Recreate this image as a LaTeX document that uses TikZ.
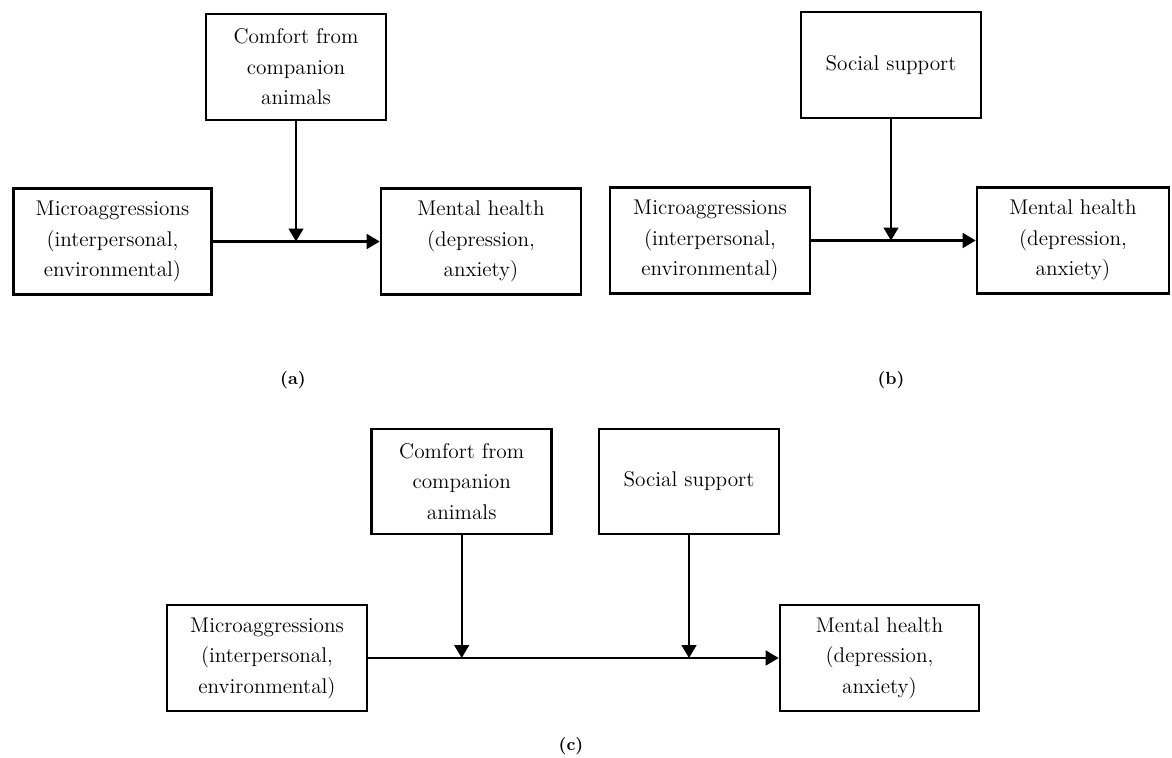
\documentclass[tikz,border=0pt]{standalone}
\usetikzlibrary{arrows.meta, positioning}

\begin{document}
\begin{tikzpicture}[
  x=0.02cm, y=-0.02cm,
  box/.style={draw, line width=1.5pt, minimum height=2.12cm, align=center,
              inner sep=2pt, font=\fontsize{12.1}{17.4}\selectfont},
  predbox/.style={box, minimum width=4.0cm},
  modbox/.style={box, minimum width=3.6cm},
  arr/.style={-{Triangle[length=7.4pt, width=8.4pt]}, line width=1.3pt},
  panel/.style={font=\bfseries\fontsize{10}{12}\selectfont}
]
  \useasboundingbox (0,0) rectangle (1172,757);

  % (a) companion animals as moderator
  \node[modbox] (comfortA) at (296,67) {Comfort from\\companion\\animals};
  \node[predbox, minimum width=3.96cm] (microA) at (112.5,241.5)
    {Microaggressions\\(interpersonal,\\environmental)};
  \node[predbox] (mentalA) at (481,241.5) {Mental health\\(depression,\\anxiety)};
  \coordinate (jA) at (comfortA.south |- microA.east);
  \draw[arr] (microA) -- (mentalA);
  \draw[arr] (comfortA) -- (jA);
  \node[panel] (labA) at (293,380) {(a)};

  % (b) social support as moderator
  \node[modbox] (socialB) at (891,65) {Social support};
  \node[predbox] (microB) at (710,240.5)
    {Microaggressions\\(interpersonal,\\environmental)};
  \node[predbox, minimum width=3.84cm] (mentalB) at (1073,240.5)
    {Mental health\\(depression,\\anxiety)};
  \coordinate (jB) at (socialB.south |- microB.east);
  \draw[arr] (microB) -- (mentalB);
  \draw[arr] (socialB) -- (jB);
  \node[panel] (labB) at (891,380) {(b)};

  % (c) both moderators
  \node[modbox, minimum height=2.1cm] (comfortC) at (461.7,481.5)
    {Comfort from\\companion\\animals};
  \node[modbox, minimum height=2.1cm] (socialC) at (689,481.5) {Social support};
  \node[predbox] (microC) at (267,658)
    {Microaggressions\\(interpersonal,\\environmental)};
  \node[predbox, minimum width=3.98cm] (mentalC) at (879.5,658)
    {Mental health\\(depression,\\anxiety)};
  \coordinate (jC1) at (comfortC.south |- microC.east);
  \coordinate (jC2) at (socialC.south |- microC.east);
  \draw[arr] (microC) -- (mentalC);
  \draw[arr] (comfortC) -- (jC1);
  \draw[arr] (socialC) -- (jC2);
  \node[panel] (labC) at (571,746) {(c)};
\end{tikzpicture}
\end{document}
